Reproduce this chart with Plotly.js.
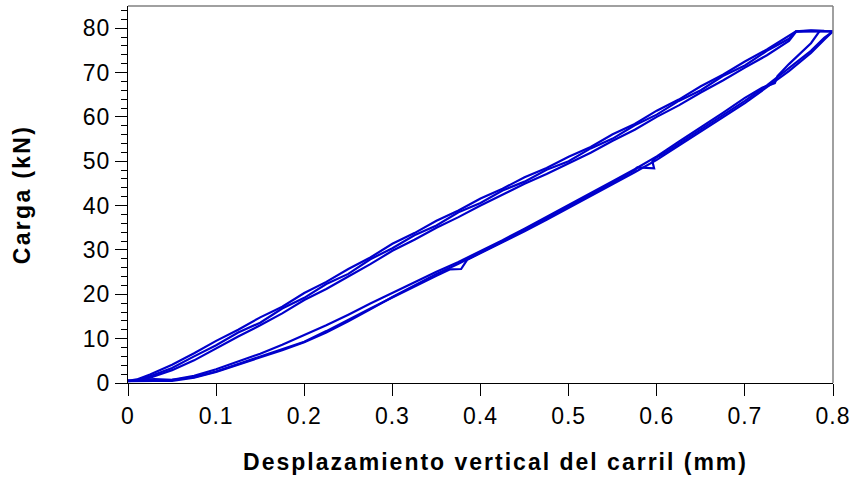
<!DOCTYPE html>
<html>
<head>
<meta charset="utf-8">
<script src="https://cdn.plot.ly/plotly-3.0.1.min.js"></script>
<style>
html,body{margin:0;padding:0;background:#fff;}
.xtitle {letter-spacing: 2.0px; transform: translateX(15px);}
.ytitle {letter-spacing: 2.3px;}
.xtick text, .ytick text {letter-spacing: 1px;}
</style>
</head>
<body>
<div id="chart" style="width:856px;height:480px;"></div>
<script>
// Loading branch (upper curve), displacement in mm
const upDisp = [0, 0.01, 0.025, 0.05, 0.075, 0.1, 0.125, 0.15, 0.175, 0.2, 0.225, 0.25, 0.275, 0.3, 0.325, 0.35, 0.375, 0.4, 0.425, 0.45, 0.475, 0.5, 0.525, 0.55, 0.575, 0.6, 0.625, 0.65, 0.675, 0.7, 0.725, 0.75, 0.758, 0.775, 0.79];
const upLoadA = [0.5, 0.8, 1.9, 4.1, 6.7, 9.5, 12.0, 14.8, 17.2, 20.3, 22.8, 25.7, 28.3, 31.4, 33.8, 36.6, 38.9, 41.6, 43.8, 46.4, 48.5, 51.0, 53.2, 56.1, 58.4, 61.4, 63.9, 66.9, 69.5, 72.5, 75.2, 78.4, 79.3, 79.4, 79.3];
const upLoadB = [0.4, 0.6, 1.5, 3.4, 6.0, 8.5, 11.4, 13.6, 16.8, 19.2, 22.3, 24.6, 27.9, 30.4, 33.3, 35.5, 38.5, 40.6, 43.4, 45.4, 48.1, 50.0, 52.9, 55.1, 58.1, 60.5, 63.6, 66.0, 69.2, 71.6, 74.9, 77.6, 79.3, 79.5, 79.4];
const upLoadC = [0.5, 0.6, 1.2, 2.9, 5.1, 7.8, 10.5, 13.0, 15.7, 18.7, 21.2, 24.0, 26.8, 29.8, 32.3, 35.0, 37.4, 40.0, 42.4, 44.9, 47.1, 49.5, 51.9, 54.6, 57.1, 60.0, 62.6, 65.5, 68.2, 71.1, 73.9, 77.1, 79.2, 79.3, 79.4];

// Unloading branch (lower curve), per cycle
const loDispA = [0.80, 0.79, 0.775, 0.75, 0.725, 0.7, 0.675, 0.65, 0.625, 0.6, 0.575, 0.55, 0.525, 0.5, 0.475, 0.45, 0.425, 0.4, 0.385, 0.378, 0.365, 0.35, 0.325, 0.3, 0.275, 0.25, 0.225, 0.2, 0.175, 0.15, 0.125, 0.1, 0.075, 0.05, 0.03, 0.0];
const loLoadA = [79.3, 77.4, 74.4, 70.3, 66.6, 63.1, 59.9, 56.7, 53.6, 50.3, 47.5, 44.8, 42.1, 39.4, 36.8, 34.2, 31.7, 29.2, 27.8, 25.7, 25.6, 24.2, 21.8, 19.3, 16.8, 14.2, 11.7, 9.3, 7.6, 6.0, 4.2, 2.6, 1.3, 0.7, 0.9, 0.6];
const loDispB = [0.785, 0.775, 0.75, 0.737, 0.734, 0.72, 0.7, 0.675, 0.65, 0.625, 0.6, 0.575, 0.55, 0.525, 0.5, 0.475, 0.45, 0.425, 0.4, 0.375, 0.35, 0.325, 0.3, 0.275, 0.25, 0.225, 0.2, 0.175, 0.15, 0.125, 0.1, 0.075, 0.05, 0.03, 0.0];
const loLoadB = [79.4, 76.6, 71.9, 69.2, 67.6, 66.6, 64.3, 60.9, 57.7, 54.4, 51.1, 48.2, 45.5, 42.8, 40.1, 37.4, 34.8, 32.2, 29.8, 27.3, 25.1, 22.7, 20.4, 17.9, 15.4, 13.0, 10.8, 8.6, 6.6, 4.8, 3.1, 1.6, 0.7, 0.5, 0.5];
const loDispC = [0.80, 0.79, 0.775, 0.75, 0.725, 0.7, 0.675, 0.65, 0.625, 0.607, 0.6, 0.595, 0.597, 0.578, 0.575, 0.55, 0.525, 0.5, 0.475, 0.45, 0.425, 0.4, 0.375, 0.35, 0.325, 0.3, 0.275, 0.25, 0.225, 0.2, 0.175, 0.15, 0.125, 0.1, 0.075, 0.05, 0.03, 0.0];
const loLoadC = [79.3, 77.8, 74.9, 71.0, 67.1, 63.6, 60.3, 57.0, 53.9, 51.6, 50.9, 50.0, 48.4, 48.6, 48.0, 45.2, 42.5, 39.9, 37.2, 34.6, 31.9, 29.4, 26.9, 24.6, 22.0, 19.4, 16.6, 13.9, 11.4, 9.2, 7.4, 5.8, 4.2, 2.5, 1.2, 0.5, 0.5, 0.4];

const xTicks = [0, 0.1, 0.2, 0.3, 0.4, 0.5, 0.6, 0.7, 0.8];
const xTickText = ['0', '0.1', '0.2', '0.3', '0.4', '0.5', '0.6', '0.7', '0.8'];
const yTicks = [0, 10, 20, 30, 40, 50, 60, 70, 80];

const blue = '#0000CC';
const cycles = [
  [upDisp, upLoadA, loDispA, loLoadA],
  [upDisp, upLoadB, loDispB, loLoadB],
  [upDisp, upLoadC, loDispC, loLoadC]
];
const traces = cycles.map(c => ({
  type: 'scatter', mode: 'lines',
  x: c[0].concat(c[2]), y: c[1].concat(c[3]),
  line: {color: blue, width: 2.2},
  hoverinfo: 'skip', showlegend: false, cliponaxis: true
}));

const tickFont = {family: 'Liberation Sans, Arial, sans-serif', size: 23, color: '#000'};
const titleFont = {family: 'Liberation Sans, Arial, sans-serif', size: 23, color: '#000', weight: 'bold'};

const layout = {
  width: 856, height: 480,
  margin: {l: 128, r: 23, t: 6, b: 97},
  paper_bgcolor: '#fff', plot_bgcolor: '#fff',
  showlegend: false,
  xaxis: {
    range: [0, 0.8], tickvals: xTicks, ticktext: xTickText,
    ticks: 'outside', ticklen: 12, tickwidth: 1, tickcolor: '#000',
    showline: true, linecolor: '#000', linewidth: 1,
    showgrid: false, zeroline: false, tickfont: tickFont,
    title: {text: 'Desplazamiento vertical del carril (mm)', font: titleFont, standoff: 26}
  },
  yaxis: {
    range: [0, 85], tickvals: yTicks,
    ticks: 'outside', ticklen: 12, tickwidth: 1, tickcolor: '#000',
    minor: {dtick: 2, ticks: 'outside', ticklen: 6, tickcolor: '#000', showgrid: false},
    showline: true, linecolor: '#000', linewidth: 1,
    showgrid: false, zeroline: false, tickfont: tickFont,
    title: {text: 'Carga (kN)', font: titleFont, standoff: 45}
  },
  shapes: [
    {type: 'line', xref: 'paper', yref: 'paper', x0: 0, x1: 1, y0: 1, y1: 1, line: {color: '#808080', width: 1.5}},
    {type: 'line', xref: 'paper', yref: 'paper', x0: 1, x1: 1, y0: 0, y1: 1, line: {color: '#808080', width: 1.5}}
  ]
};

Plotly.newPlot('chart', traces, layout, {staticPlot: true, displayModeBar: false});
</script>
</body>
</html>
